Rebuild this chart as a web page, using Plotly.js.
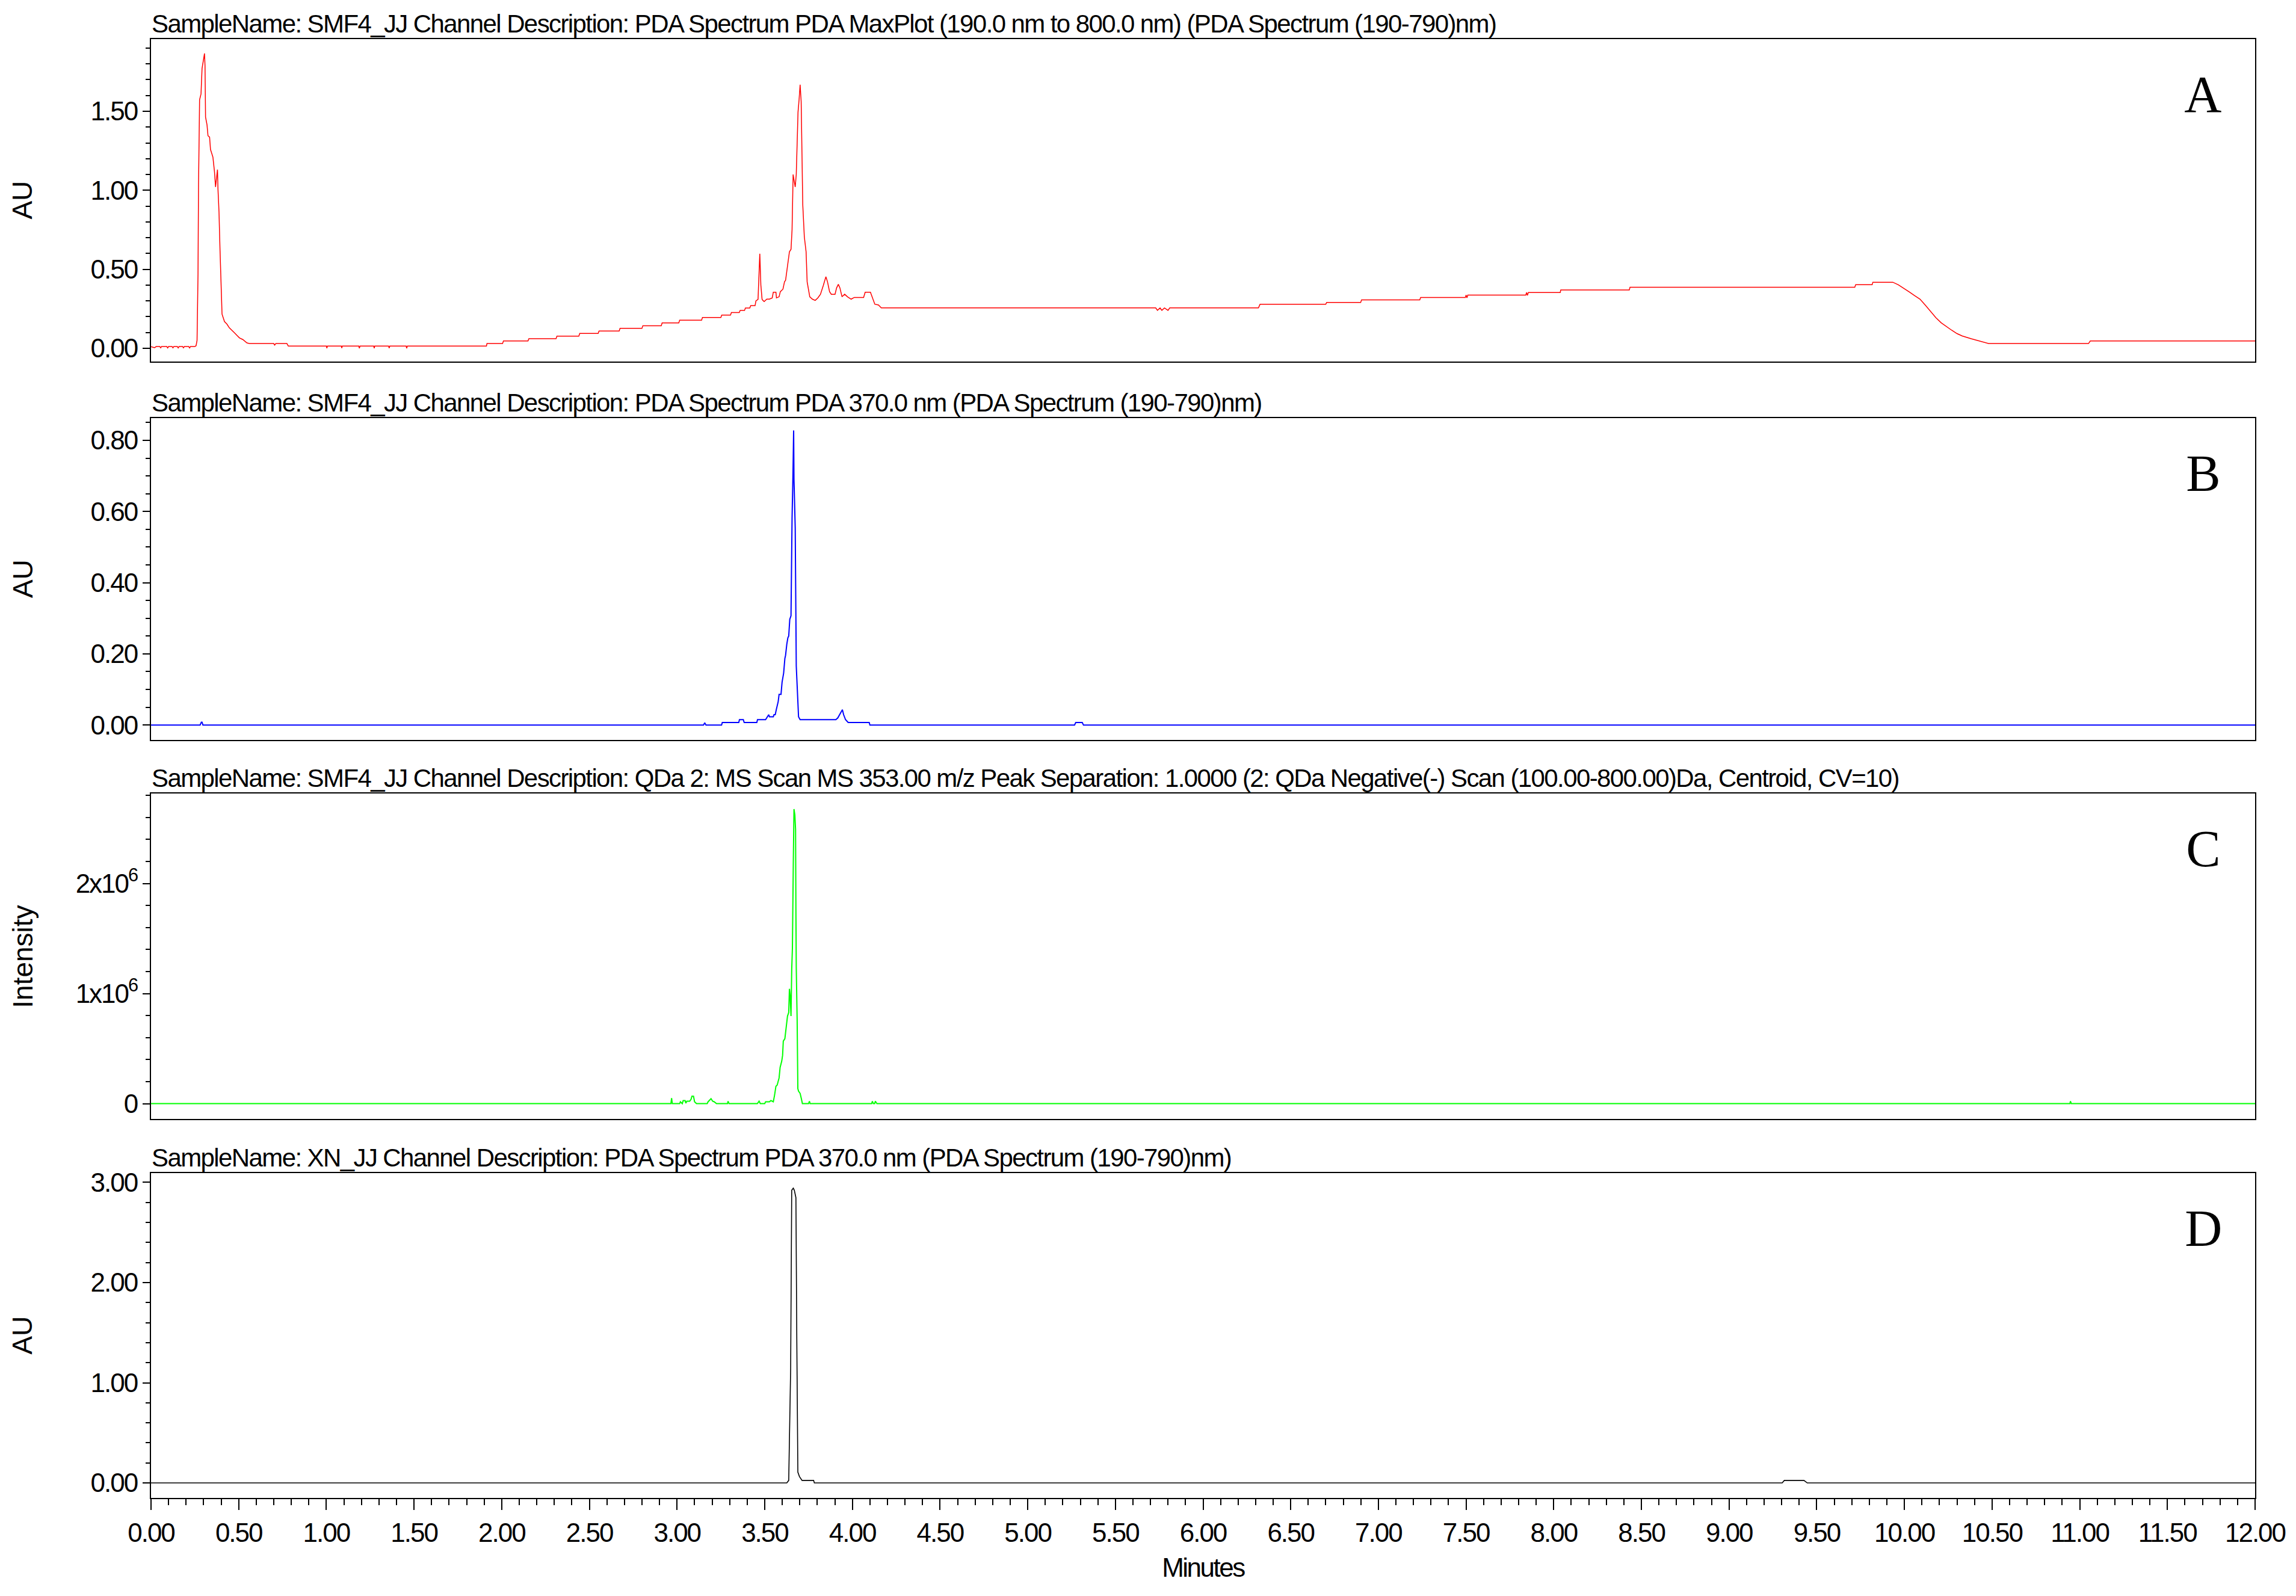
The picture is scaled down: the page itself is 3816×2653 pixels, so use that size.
<!DOCTYPE html>
<html><head><meta charset="utf-8">
<script src="https://cdn.plot.ly/plotly-3.0.1.min.js"></script>
<style>
html,body{margin:0;padding:0;background:#fff;}
#chart{width:3816px;height:2653px;}
.annotation[data-index="0"] text,.annotation[data-index="1"] text,.annotation[data-index="2"] text,.annotation[data-index="3"] text{letter-spacing:-1.6px;}
#js-plotly-tester text{letter-spacing:-1.6px;}
.x4tick text,.ytick text,.y2tick text,.y3tick text,.y4tick text{letter-spacing:-2px;}
.annotation[data-index="12"] text{letter-spacing:-2.5px;}
</style></head>
<body><div id="chart"></div>
<script>
// ---- Panel A: PDA MaxPlot (AU) ----
const timeA = [0.000,0.020,0.030,0.050,0.055,0.060,0.090,0.095,0.100,0.120,0.125,0.130,0.150,0.155,0.160,0.180,0.185,0.190,0.215,0.220,0.225,0.250,
0.2568,0.2625,0.268,0.271,0.277,0.2852,0.291,0.2994,0.305,0.3079,0.311,0.3193,0.325,0.334,0.3393,0.353,0.3621,0.368,0.3763,0.379,0.382,0.3877,0.3934,0.399,0.405,
0.419,0.433,0.447,0.462,0.476,0.490,0.504,0.524,0.547,0.561,0.700,0.705,0.712,0.775,0.783,
1.000,1.003,1.006,1.085,1.088,1.091,1.185,1.188,1.192,1.270,1.273,1.276,1.355,1.358,1.362,1.455,1.458,1.462,
1.913,1.916,2.005,2.010,2.150,2.155,2.310,2.315,2.440,2.445,2.550,2.555,2.670,2.675,2.800,2.805,2.910,2.915,3.010,3.015,3.140,3.145,3.250,3.255,3.305,3.310,3.355,3.360,3.385,3.390,3.415,3.420,3.445,3.450,
3.462,3.468,3.472,3.478,3.485,3.490,3.497,3.512,3.527,3.543,3.549,3.564,3.567,3.582,3.589,3.604,3.613,3.619,3.628,3.641,3.650,3.656,3.662,3.674,3.680,3.690,3.696,3.702,3.708,3.717,3.726,3.736,3.742,3.757,3.772,3.788,3.803,3.818,3.834,3.849,3.858,3.870,3.880,3.901,3.910,3.920,3.929,3.941,3.956,3.972,3.993,4.011,4.064,4.073,4.103,4.116,4.128,4.149,4.165,
5.730,5.740,5.755,5.765,5.780,5.800,5.810,6.316,6.325,6.700,6.705,6.899,6.904,7.236,7.241,7.496,7.500,7.505,7.510,7.841,7.845,7.850,7.855,8.037,8.040,8.431,8.435,9.717,9.722,9.816,9.820,9.934,
9.965,9.996,10.027,10.058,10.089,10.120,10.151,10.180,10.210,10.240,10.270,10.300,10.330,10.380,10.430,10.480,11.050,11.060,12.000];
const auA = [0.010,0.004,0.011,0.011,0.003,0.011,0.011,0.002,0.011,0.011,0.003,0.011,0.011,0.002,0.011,0.011,0.003,0.011,0.011,0.002,0.011,0.011,
0.016,0.050,0.469,1.037,1.573,1.610,1.771,1.826,1.866,1.790,1.463,1.415,1.345,1.337,1.258,1.210,1.116,1.021,1.116,1.131,1.005,0.863,0.626,0.390,0.216,
0.169,0.153,0.129,0.114,0.098,0.082,0.066,0.055,0.034,0.030,0.030,0.020,0.030,0.030,0.014,
0.014,0.000,0.014,0.014,0.001,0.014,0.014,0.000,0.014,0.014,0.000,0.014,0.014,0.001,0.014,0.014,0.000,0.014,
0.014,0.030,0.030,0.046,0.046,0.061,0.061,0.077,0.077,0.094,0.094,0.109,0.109,0.126,0.126,0.143,0.143,0.161,0.161,0.178,0.178,0.195,0.195,0.210,0.210,0.226,0.226,0.240,0.240,0.255,0.255,0.270,0.270,0.300,
0.310,0.450,0.598,0.400,0.310,0.303,0.296,0.311,0.311,0.319,0.355,0.355,0.319,0.326,0.358,0.374,0.421,0.430,0.500,0.611,0.626,0.750,1.100,1.021,1.100,1.495,1.573,1.668,1.560,0.910,0.705,0.611,0.421,0.326,0.311,0.303,0.319,0.342,0.397,0.453,0.421,0.358,0.342,0.342,0.382,0.405,0.382,0.326,0.342,0.326,0.311,0.322,0.322,0.355,0.355,0.319,0.279,0.274,0.2555,
0.2555,0.240,0.255,0.240,0.255,0.240,0.2555,0.2555,0.279,0.279,0.290,0.290,0.306,0.306,0.322,0.322,0.337,0.320,0.337,0.337,0.353,0.335,0.353,0.353,0.369,0.369,0.386,0.386,0.402,0.402,0.418,0.418,
0.402,0.381,0.357,0.333,0.311,0.272,0.232,0.193,0.161,0.137,0.114,0.093,0.078,0.061,0.046,0.030,0.030,0.046,0.046];

// ---- Panel B: PDA 370 nm (AU) ----
const timeB = [0.000,0.280,0.287,0.291,0.296,3.145,3.151,3.158,3.165,3.254,3.258,3.352,3.356,3.378,3.383,3.455,3.459,3.505,3.516,3.523,3.527,3.549,3.553,3.560,3.566,3.577,3.582,3.593,3.599,3.608,3.615,3.619,3.626,3.632,3.637,3.643,3.650,3.654,3.656,3.661,3.665,3.667,3.672,3.674,3.680,3.693,3.702,3.906,3.917,3.928,3.934,3.943,3.950,3.961,3.976,4.096,4.100,5.267,5.274,5.311,5.318,12.000];
const auB = [0.000,0.000,0.008,0.008,0.000,0.000,0.000,0.006,0.000,0.000,0.007,0.007,0.015,0.015,0.007,0.007,0.015,0.015,0.023,0.029,0.023,0.023,0.029,0.029,0.043,0.066,0.086,0.086,0.120,0.146,0.187,0.196,0.227,0.245,0.250,0.297,0.307,0.560,0.580,0.701,0.828,0.690,0.580,0.554,0.166,0.023,0.015,0.015,0.020,0.029,0.035,0.043,0.029,0.015,0.007,0.007,0.000,0.000,0.007,0.007,0.000,0.000];

// ---- Panel C: QDa MS 353.00 m/z (Intensity) ----
const timeC = [0.000,2.965,2.969,2.973,3.015,3.019,3.030,3.035,3.046,3.050,3.056,3.072,3.080,3.085,3.094,3.100,3.111,3.172,3.177,3.186,3.194,3.203,3.212,3.225,3.288,3.291,3.297,3.458,3.468,3.475,3.500,3.505,3.527,3.535,3.549,3.556,3.564,3.571,3.577,3.582,3.588,3.597,3.602,3.606,3.615,3.626,3.630,3.637,3.641,3.645,3.650,3.654,3.658,3.663,3.667,3.672,3.676,3.678,3.680,3.685,3.689,3.693,3.702,3.709,3.715,3.750,3.755,3.759,4.110,4.114,4.120,4.127,4.131,4.140,10.944,10.947,10.952,12.000];
const intensityC = [0,0,50000,0,0,17000,0,28000,28000,5000,22000,22000,40000,67000,67000,17000,0,0,17000,30000,45000,22000,17000,0,0,22000,0,0,22000,0,0,17000,17000,28000,17000,75000,158000,168000,201000,233000,330000,385000,438000,568000,590000,741000,795000,828000,1043000,979000,795000,1216000,1411000,2167000,2675000,2621000,2491000,1735000,1238000,762000,136000,114000,93000,45000,0,0,22000,0,0,22000,0,0,22000,0,0,22000,0,0];

// ---- Panel D: XN standard, PDA 370 nm (AU) ----
const timeD = [0.000,3.626,3.637,3.648,3.654,3.663,3.669,3.678,3.683,3.689,3.698,3.713,3.779,3.783,9.303,9.315,9.427,9.446,12.000];
const auD = [0,0,0.025,1.145,2.921,2.942,2.921,2.847,1.441,0.108,0.064,0.025,0.025,0,0,0.025,0.025,0,0];

// ---- Texts ----
const panelTitles = [
 "SampleName: SMF4_JJ Channel Description: PDA Spectrum PDA MaxPlot (190.0 nm to 800.0 nm) (PDA Spectrum (190-790)nm)",
 "SampleName: SMF4_JJ Channel Description: PDA Spectrum PDA 370.0 nm (PDA Spectrum (190-790)nm)",
 "SampleName: SMF4_JJ Channel Description: QDa 2: MS Scan MS 353.00 m/z Peak Separation: 1.0000 (2: QDa Negative(-) Scan (100.00-800.00)Da, Centroid, CV=10)",
 "SampleName: XN_JJ Channel Description: PDA Spectrum PDA 370.0 nm (PDA Spectrum (190-790)nm)"
];
const yTitles = ["AU","AU","Intensity","AU"];
const panelLetters = ["A","B","C","D"];
const xTitle = "Minutes";
const tickValsC = [0,1000000,2000000];
const tickTextC = ["0","1x10<sup>6</sup>","2x10<sup>6</sup>"];

// ---- Layout geometry ----
const W = 3816, H = 2653;
const xDom = [251/W, 3748/W];
const panelsPx = [[65,601],[695,1230],[1319,1860],[1950,2490]];
const yDoms = panelsPx.map(p => [1 - p[1]/H, 1 - p[0]/H]);

const tickFont = {family:"Liberation Sans, Arial, sans-serif", size:44, color:"#000"};
const colors = ["#ff0000","#0000ff","#00ff00","#000000"];
const widths = [1.5,2,2,1.6];

const xs = [timeA,timeB,timeC,timeD];
const ys = [auA,auB,intensityC,auD];
const traces = xs.map((x,i)=>({
  x:x, y:ys[i], type:"scatter", mode:"lines",
  xaxis: i===0 ? "x" : "x"+(i+1), yaxis: i===0 ? "y" : "y"+(i+1),
  line:{color:colors[i], width:widths[i]}, hoverinfo:"skip", showlegend:false
}));

const layout = {
  width:W, height:H, margin:{l:0,r:0,t:0,b:0},
  paper_bgcolor:"#fff", plot_bgcolor:"#fff", showlegend:false,
  font:{family:"Liberation Sans, Arial, sans-serif", color:"#000"},
  annotations:[]
};
const yRanges = [[-0.084,1.957],[-0.042,0.8625],[-139000,2817000],[-0.150,3.093]];
const yDticks = [0.5,0.2,null,1];
const yMinor = [0.1,0.05,200000,0.2];

for(let i=0;i<4;i++){
  const xk = i===0 ? "xaxis" : "xaxis"+(i+1);
  const yk = i===0 ? "yaxis" : "yaxis"+(i+1);
  const yid = i===0 ? "y" : "y"+(i+1);
  const xid = i===0 ? "x" : "x"+(i+1);
  const bottom = (i===3);
  const xa = {
    domain:xDom, anchor:yid, range:[0,12], showgrid:false, zeroline:false,
    showline:true, mirror:true, linecolor:"#000", linewidth:2,
    ticks: bottom ? "outside" : "", ticklen:18, tickwidth:2, tickcolor:"#000",
    showticklabels: bottom, tickmode:"linear", tick0:0, dtick:0.5, tickformat:".2f",
    tickfont:tickFont, fixedrange:true
  };
  if(bottom) xa.minor = {ticks:"outside", ticklen:10, tickwidth:2, tickcolor:"#000", tickmode:"linear", tick0:0, dtick:0.1, showgrid:false};
  layout[xk] = xa;
  const ya = {
    domain:yDoms[i], anchor:xid, range:yRanges[i], showgrid:false, zeroline:false,
    showline:true, mirror:true, linecolor:"#000", linewidth:2,
    ticks:"outside", ticklen:12, tickwidth:2, tickcolor:"#000", tickfont:tickFont,
    minor:{ticks:"outside", ticklen:7, tickwidth:2, tickcolor:"#000", tickmode:"linear", tick0:0, dtick:yMinor[i], showgrid:false},
    fixedrange:true
  };
  if(i===2){ ya.tickmode="array"; ya.tickvals=tickValsC; ya.ticktext=tickTextC; }
  else { ya.tickmode="linear"; ya.tick0=0; ya.dtick=yDticks[i]; ya.tickformat=".2f"; }
  layout[yk] = ya;
}
// titles above panels (indices 0-3)
for(let i=0;i<4;i++){
  layout.annotations.push({text:panelTitles[i], xref:"paper", yref:"paper", x:xDom[0], y:yDoms[i][1],
    xanchor:"left", yanchor:"bottom", showarrow:false, borderpad:0, yshift:1,
    font:{family:"Liberation Sans, Arial, sans-serif", size:42, color:"#000"}});
}
// y titles (4-7)
for(let i=0;i<4;i++){
  const yid = i===0 ? "y" : "y"+(i+1);
  layout.annotations.push({text:yTitles[i], xref:"paper", yref:yid+" domain", x:37/W, y:0.5,
    xanchor:"center", yanchor:"middle", textangle:-90, showarrow:false,
    font:{family:"Liberation Sans, Arial, sans-serif", size:46, color:"#000"}});
}
// panel letters (8-11)
for(let i=0;i<4;i++){
  const yid = i===0 ? "y" : "y"+(i+1);
  const xid = i===0 ? "x" : "x"+(i+1);
  const hPx = panelsPx[i][1]-panelsPx[i][0];
  layout.annotations.push({text:panelLetters[i], xref:xid+" domain", yref:yid+" domain",
    x:1-86/(3748-251), y:1-92/hPx, xanchor:"center", yanchor:"middle", showarrow:false,
    font:{family:"Liberation Serif, Times New Roman, serif", size:86, color:"#000"}});
}
// x title (12)
layout.annotations.push({text:xTitle, xref:"paper", yref:"paper", x:(xDom[0]+xDom[1])/2, y:1-2605/H,
  xanchor:"center", yanchor:"middle", showarrow:false,
  font:{family:"Liberation Sans, Arial, sans-serif", size:44, color:"#000"}});

Plotly.newPlot("chart", traces, layout, {staticPlot:true, displayModeBar:false});
</script></body></html>
